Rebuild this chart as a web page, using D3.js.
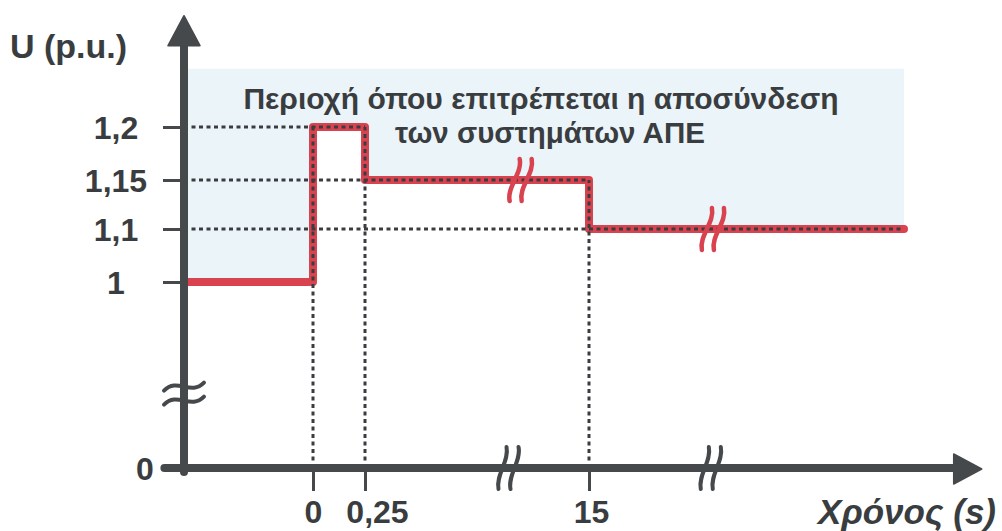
<!DOCTYPE html>
<html>
<head>
<meta charset="utf-8">
<script src="https://cdn.jsdelivr.net/npm/d3@7"></script>
<style>
  html, body { margin: 0; padding: 0; background: #ffffff; }
  svg { display: block; }
  text { font-family: "Liberation Sans", Arial, sans-serif; font-weight: bold; fill: #3a3d40; }
</style>
</head>
<body>
<svg id="chart" width="1002" height="531"></svg>
<script>
// ---- data ----
const stepTimes    = [-1, 0, 0.25, 15, 30];          // s (x-axis is broken after 0.25 and after 15)
const stepVoltages = [1, 1.2, 1.15, 1.1, 1.1];       // p.u.
const yTickValues  = [0, 1, 1.1, 1.15, 1.2];
const yTickLabels  = ["0", "1", "1,1", "1,15", "1,2"];
const xTickValues  = [0, 0.25, 15];
const xTickLabels  = ["0", "0,25", "15"];
const xAxisBreaks  = [9.7, 20.8];
const lineBreaks   = [10.5, 20.9];
const yAxisBreaks  = [0.4];
const shadeTop     = 1.255;
const yAxisTop     = 1.305;
const xAxisEnd     = 33.7;
const xAxisStart   = -1.1;
const regionLabel  = ["Περιοχή όπου επιτρέπεται η αποσύνδεση", "των συστημάτων ΑΠΕ"];
const yTitle       = "U (p.u.)";
const xTitle       = "Χρόνος (s)";

// ---- scales (piecewise, because the axes are broken) ----
const x = d3.scaleLinear().domain([-1, 0, 0.25, 15, 30]).range([187, 313, 365, 589, 904]);
const y = d3.scaleLinear().domain([0, 1, 1.1, 1.15, 1.2]).range([468, 282, 229, 180, 127]);

const svg = d3.select("#chart");
const axisColor = "#46494c";
const red = "#d8434f";
const x0 = 184;          // y-axis position
const yAxisY = y(0);

// shaded region: above the step line
const pts = stepTimes.map((t, i) => [t, stepVoltages[i]]);
const area = d3.area()
  .x(d => x(d[0]))
  .y0(y(shadeTop))
  .y1(d => y(d[1]))
  .curve(d3.curveStepAfter);
svg.append("path")
  .datum(pts)
  .attr("d", area)
  .attr("fill", "#eaf4f9");

// dotted guides
const dash = "4,3.5";
const guides = [
  {x1: x0, y1: y(1.2), x2: x(0.25), y2: y(1.2)},
  {x1: x0, y1: y(1.15), x2: x(15), y2: y(1.15)},
  {x1: x0, y1: y(1.1), x2: x(30), y2: y(1.1)},
  {x1: x(0), y1: yAxisY, x2: x(0), y2: y(1.2)},
  {x1: x(0.25), y1: yAxisY, x2: x(0.25), y2: y(1.2)},
  {x1: x(15), y1: yAxisY, x2: x(15), y2: y(1.15)}
];

// red step line
const line = d3.line().x(d => x(d[0])).y(d => y(d[1])).curve(d3.curveStepAfter);
svg.append("path")
  .datum(pts)
  .attr("d", line)
  .attr("fill", "none")
  .attr("stroke", red)
  .attr("stroke-width", 8)
  .attr("stroke-linejoin", "round")
  .attr("stroke-linecap", "round");

svg.selectAll("line.guide").data(guides).enter().append("line")
  .attr("class", "guide")
  .attr("x1", d => d.x1).attr("y1", d => d.y1)
  .attr("x2", d => d.x2).attr("y2", d => d.y2)
  .attr("stroke", "#3a3c40")
  .attr("stroke-width", 3)
  .attr("stroke-dasharray", dash);

// break squiggle generator (double S curve)
function sCurve(cx, cy, h, w) {
  return `M${cx - w},${cy + h/2} C${cx - w - 3},${cy + h/6} ${cx + w + 3},${cy - h/6} ${cx + w},${cy - h/2}`;
}
function tilde(cx, cy, w, h) {
  return `M${cx - w/2},${cy + h/2} C${cx - w/6},${cy - h * 1.2} ${cx + w/6},${cy + h * 1.2} ${cx + w/2},${cy - h/2}`;
}

// y axis with arrow
svg.append("line")
  .attr("x1", x0).attr("x2", x0)
  .attr("y1", yAxisY + 4).attr("y2", y(yAxisTop) + 20)
  .attr("stroke", axisColor).attr("stroke-width", 8).attr("stroke-linecap", "round");
svg.append("path")
  .attr("d", `M${x0},${y(yAxisTop)} L${x0 + 16},${y(yAxisTop) + 30} L${x0 - 16},${y(yAxisTop) + 30} Z`)
  .attr("fill", axisColor).attr("stroke", axisColor).attr("stroke-width", 1.5).attr("stroke-linejoin", "round");

// x axis with arrow
const xEnd = x(xAxisEnd);
svg.append("line")
  .attr("x1", x(xAxisStart) - 10).attr("x2", xEnd - 20)
  .attr("y1", yAxisY).attr("y2", yAxisY)
  .attr("stroke", axisColor).attr("stroke-width", 8).attr("stroke-linecap", "round");
svg.append("path")
  .attr("d", `M${xEnd},${yAxisY + 1} L${xEnd - 28},${yAxisY - 14} L${xEnd - 28},${yAxisY + 16} Z`)
  .attr("fill", axisColor).attr("stroke", axisColor).attr("stroke-width", 1.5).attr("stroke-linejoin", "round");

// y ticks & labels
const yTicks = svg.append("g").attr("transform", `translate(${x0},0)`)
  .call(d3.axisLeft(y).tickValues(yTickValues).tickSize(21)
    .tickFormat((d, i) => yTickLabels[i]));
yTicks.select(".domain").remove();
yTicks.selectAll(".tick line").attr("stroke", axisColor).attr("stroke-width", 3);
yTicks.selectAll(".tick text")
  .attr("font-size", 32)
  .attr("font-family", "'Liberation Sans', Arial, sans-serif")
  .attr("fill", "#3a3d40")
  .attr("text-anchor", "middle")
  .attr("x", d => d === 0 ? -39 : -68)
  .attr("dy", "0.36em");

// x ticks & labels
const xTicks = svg.append("g").attr("transform", `translate(0,${yAxisY + 4})`)
  .call(d3.axisBottom(x).tickValues(xTickValues).tickSize(19)
    .tickFormat((d, i) => xTickLabels[i]));
xTicks.select(".domain").remove();
xTicks.selectAll(".tick line").attr("stroke", axisColor).attr("stroke-width", 3);
xTicks.selectAll(".tick text")
  .attr("font-size", 32)
  .attr("font-family", "'Liberation Sans', Arial, sans-serif")
  .attr("fill", "#3a3d40")
  .attr("y", 51)
  .attr("dy", 0)
  .attr("dx", d => d === 0.25 ? 12 : (d === 15 ? 2 : 0));

// x-axis breaks
xAxisBreaks.forEach(t => {
  const cx = x(t);
  [-6, 6].forEach(off => {
    svg.append("path").attr("d", sCurve(cx + off, yAxisY, 42, 4))
      .attr("fill", "none").attr("stroke", axisColor).attr("stroke-width", 4).attr("stroke-linecap", "round");
  });
});

// red line breaks
lineBreaks.forEach((t, i) => {
  const cx = x(t);
  const cy = y(i === 0 ? 1.15 : 1.1);
  [-6, 6].forEach(off => {
    svg.append("path").attr("d", sCurve(cx + off, cy, 42, 5))
      .attr("fill", "none").attr("stroke", red).attr("stroke-width", 4.5).attr("stroke-linecap", "round");
  });
});

// y-axis break
yAxisBreaks.forEach(v => {
  const cy = y(v);
  [-7, 7].forEach(off => {
    svg.append("path").attr("d", tilde(x0, cy + off, 40, 8))
      .attr("fill", "none").attr("stroke", axisColor).attr("stroke-width", 4).attr("stroke-linecap", "round");
  });
});

// region label
svg.append("text").attr("x", 541).attr("y", 109).attr("text-anchor", "middle")
  .attr("font-size", 30).text(regionLabel[0]);
svg.append("text").attr("x", 550).attr("y", 143).attr("text-anchor", "middle")
  .attr("font-size", 29.5).text(regionLabel[1]);

// axis titles
svg.append("text").attr("x", 10).attr("y", 58).attr("font-size", 34).text(yTitle);
svg.append("text").attr("x", 996).attr("y", 524).attr("text-anchor", "end")
  .attr("font-size", 35).attr("font-style", "italic").text(xTitle);
</script>
</body>
</html>
